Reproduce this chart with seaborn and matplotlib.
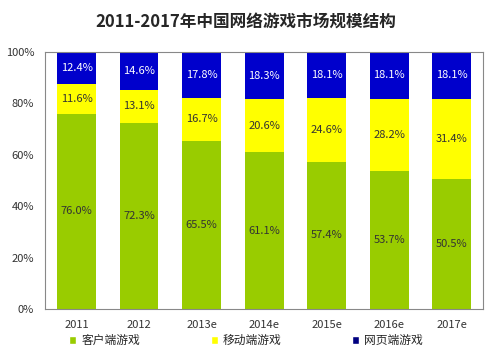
import numpy as np
import pandas as pd
import matplotlib
matplotlib.use("Agg")
import matplotlib.pyplot as plt
from matplotlib.patches import Patch
import seaborn as sns

years = ["2011", "2012", "2013e", "2014e", "2015e", "2016e", "2017e"]
client = [76.0, 72.3, 65.5, 61.1, 57.4, 53.7, 50.5]
mobile = [11.6, 13.1, 16.7, 20.6, 24.6, 28.2, 31.4]
web = [12.4, 14.6, 17.8, 18.3, 18.1, 18.1, 18.1]
series_names = ["客户端游戏", "移动端游戏", "网页端游戏"]

green = "#99cc00"
yellow = "#ffff00"
blue = "#0000cc"

sns.set_style("white")
plt.rcParams["font.family"] = ["Noto Sans CJK SC", "DejaVu Sans"]

df = pd.DataFrame({"year": years, "client": client, "mobile": mobile, "web": web})
df["top2"] = df["client"] + df["mobile"]
df["top3"] = df["top2"] + df["web"]

fig = plt.figure(figsize=(4.92, 3.54), dpi=100)
ax = fig.add_axes([0.092, 0.127, 0.89, 0.726])

# stacked look: draw cumulative totals back to front
w = 0.62
for col, colr in [("top3", blue), ("top2", yellow), ("client", green)]:
    sns.barplot(data=df, x="year", y=col, color=colr, width=w, saturation=1,
                linewidth=0, edgecolor="none", ax=ax)

for i in range(len(years)):
    c, m, wb = client[i], mobile[i], web[i]
    ax.text(i, c / 2, f"{c:.1f}%", ha="center", va="center", fontsize=8, color="#333333")
    ax.text(i, c + m / 2, f"{m:.1f}%", ha="center", va="center", fontsize=8, color="#333333")
    ax.text(i, c + m + wb / 2, f"{wb:.1f}%", ha="center", va="center", fontsize=8, color="white")

ax.set_ylim(0, 100)
ax.set_xlim(-0.5, len(years) - 0.5)
ax.set_yticks(range(0, 101, 20))
ax.set_yticklabels([f"{v}%" for v in range(0, 101, 20)])
ax.set_xlabel("")
ax.set_ylabel("")
ax.tick_params(axis="both", length=0, labelsize=8, colors="#333333")
ax.tick_params(axis="x", pad=8)
ax.tick_params(axis="y", pad=8)
for s in ax.spines.values():
    s.set_color("#888888")
    s.set_linewidth(0.8)

fig.suptitle("2011-2017年中国网络游戏市场规模结构", fontsize=12, fontweight="bold", y=0.965)

handles = [Patch(facecolor=green), Patch(facecolor=yellow), Patch(facecolor="#000080")]
fig.legend(handles, series_names, loc="lower center", bbox_to_anchor=(0.5, -0.01), ncol=3,
           frameon=False, fontsize=8.5, handlelength=0.6, handleheight=0.6, handletextpad=0.4,
           columnspacing=6)

fig.savefig("out.png", dpi=100)
